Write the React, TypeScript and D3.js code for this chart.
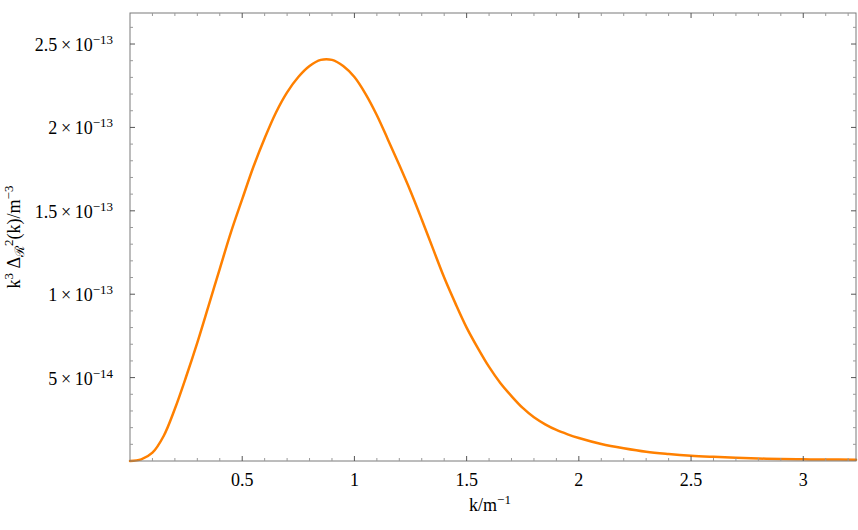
import React from "react";
import * as d3 from "d3";

// wavenumber k (1/m)
const kValues = [
  0.0, 0.05, 0.1, 0.15, 0.2, 0.25, 0.3, 0.35, 0.4, 0.45, 0.5, 0.55, 0.6, 0.65,
  0.7, 0.75, 0.8, 0.85, 0.9, 0.95, 1.0, 1.05, 1.1, 1.15, 1.2, 1.25, 1.3,
  1.35, 1.4, 1.45, 1.5, 1.55, 1.6, 1.65, 1.7, 1.75, 1.8, 1.85, 1.9, 1.95, 2.0,
  2.1, 2.2, 2.3, 2.4, 2.5, 2.6, 2.7, 2.8, 2.9, 3.0, 3.1, 3.235,
];
// k^3 Delta_R^2 (k), in units of 1e-13 m^-3
const powerValues = [
  0.0, 0.01, 0.05, 0.15, 0.313, 0.505, 0.71, 0.93, 1.152, 1.372, 1.57, 1.764,
  1.935, 2.088, 2.21, 2.302, 2.368, 2.405, 2.405, 2.368, 2.302, 2.2, 2.073,
  1.925, 1.774, 1.617, 1.448, 1.273, 1.1, 0.945, 0.8, 0.677, 0.564, 0.468,
  0.389, 0.318, 0.262, 0.22, 0.186, 0.16, 0.138, 0.102, 0.076, 0.055, 0.042,
  0.032, 0.025, 0.019, 0.015, 0.012, 0.01, 0.009, 0.008,
];

const xMajorTicks = [0.5, 1, 1.5, 2, 2.5, 3];
const xTickLabels = ["0.5", "1", "1.5", "2", "2.5", "3"];
const yMajorTicks = [0.5, 1, 1.5, 2, 2.5];
const yTickMantissa = ["5", "1", "1.5", "2", "2.5"];
const yTickExponent = ["−14", "−13", "−13", "−13", "−13"];

const W = 858;
const H = 530;
const left = 130;
const right = 856;
const top = 13;
const bottom = 461;

const FONT = '"Liberation Serif", "Times New Roman", "DejaVu Serif", serif';

export default function App() {
  const x = d3.scaleLinear().domain([0, 3.235]).range([left, right]);
  const y = d3.scaleLinear().domain([0, 2.686]).range([bottom, top]);

  const data = kValues.map((k, i) => [k, powerValues[i]] as [number, number]);
  const line = d3
    .line<[number, number]>()
    .x((d) => x(d[0]))
    .y((d) => y(d[1]))
    .curve(d3.curveCatmullRom.alpha(0.5));

  const notHalf = (v: number) => Math.abs(v * 2 - Math.round(v * 2)) > 1e-6;
  const xMinor = d3.range(1, 33).map((i) => i / 10).filter(notHalf);
  const yMinor = d3.range(1, 27).map((i) => i / 10).filter(notHalf);

  const frame = "#7a7a7a";
  const major = 5;
  const minor = 3;

  return (
    <svg
      width={W}
      height={H}
      style={{ position: "absolute", left: 0, top: 0, background: "#fff" }}
      fontFamily={FONT}
    >
      <rect x={0} y={0} width={W} height={H} fill="#fff" />
      <path
        d={line(data) || ""}
        fill="none"
        stroke="#ff8000"
        strokeWidth={2.5}
        strokeLinejoin="round"
        strokeLinecap="round"
      />
      <rect
        x={left}
        y={top}
        width={right - left}
        height={bottom - top}
        fill="none"
        stroke={frame}
        strokeWidth={1}
      />
      {xMajorTicks.map((t) => (
        <g key={"xM" + t} stroke="#555" strokeWidth={1}>
          <line x1={x(t)} x2={x(t)} y1={bottom} y2={bottom - major} />
          <line x1={x(t)} x2={x(t)} y1={top} y2={top + major} />
        </g>
      ))}
      {xMinor.map((t) => (
        <g key={"xm" + t} stroke="#999" strokeWidth={1}>
          <line x1={x(t)} x2={x(t)} y1={bottom} y2={bottom - minor} />
          <line x1={x(t)} x2={x(t)} y1={top} y2={top + minor} />
        </g>
      ))}
      {yMajorTicks.map((t) => (
        <g key={"yM" + t} stroke="#555" strokeWidth={1}>
          <line x1={left} x2={left + major} y1={y(t)} y2={y(t)} />
          <line x1={right} x2={right - major} y1={y(t)} y2={y(t)} />
        </g>
      ))}
      {yMinor.map((t) => (
        <g key={"ym" + t} stroke="#999" strokeWidth={1}>
          <line x1={left} x2={left + minor} y1={y(t)} y2={y(t)} />
          <line x1={right} x2={right - minor} y1={y(t)} y2={y(t)} />
        </g>
      ))}
      {xMajorTicks.map((t, i) => (
        <text key={"xl" + t} x={x(t)} y={486} textAnchor="middle" fontSize={18} fill="#000">
          {xTickLabels[i]}
        </text>
      ))}
      {yMajorTicks.map((t, i) => (
        <text key={"yl" + t} x={113} y={y(t) + 7} textAnchor="end" fontSize={18} fill="#000">
          {yTickMantissa[i] + "\u2009×\u200910"}
          <tspan dy={-7} fontSize={13}>
            {yTickExponent[i]}
          </tspan>
        </text>
      ))}
      <text x={490} y={511} textAnchor="middle" fontSize={18} fill="#000">
        k/m
        <tspan dy={-7} fontSize={13}>
          −1
        </tspan>
      </text>
      <text
        transform={`translate(20, ${(top + bottom) / 2}) rotate(-90)`}
        textAnchor="middle"
        fontSize={18}
        fill="#000"
      >
        k
        <tspan dy={-7} fontSize={13}>3</tspan>
        <tspan dy={7}> Δ</tspan>
        <tspan dy={4} fontSize={13}>ℛ</tspan>
        <tspan dy={-11} fontSize={13}>2</tspan>
        <tspan dy={7}>(k)/m</tspan>
        <tspan dy={-7} fontSize={13}>−3</tspan>
      </text>
    </svg>
  );
}
